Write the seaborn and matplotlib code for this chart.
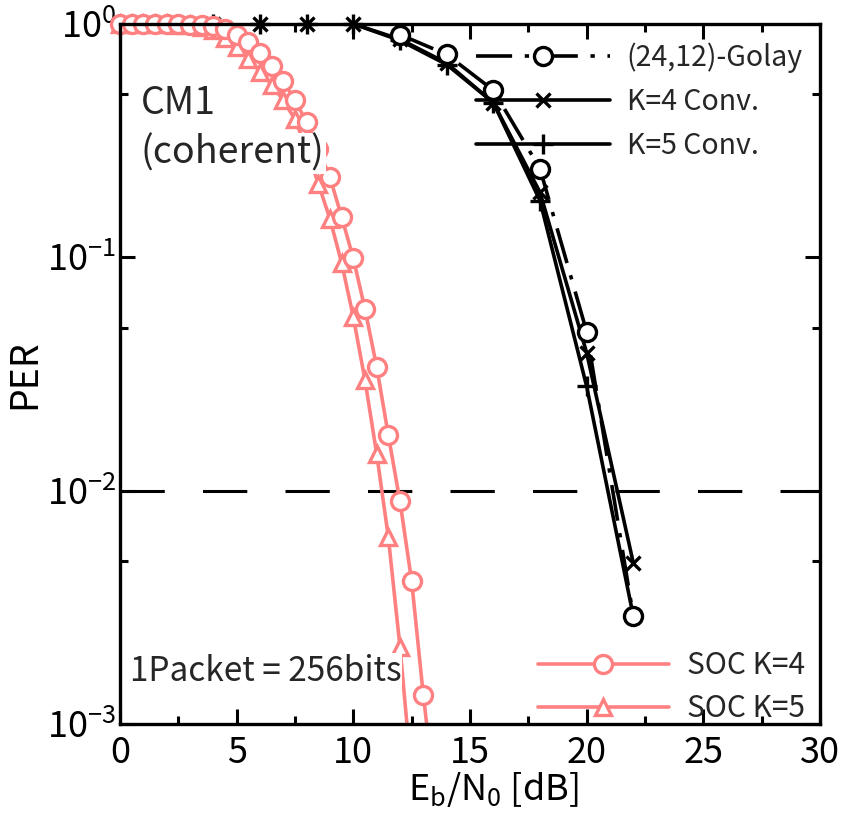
import numpy as np
import pandas as pd
import matplotlib
matplotlib.use("Agg")
import matplotlib.pyplot as plt
import seaborn as sns
from matplotlib.lines import Line2D
from matplotlib.ticker import MultipleLocator, LogLocator, FixedLocator

sns.set_theme(style="ticks")
plt.rcParams['font.family'] = ['Noto Sans CJK JP', 'DejaVu Sans']
plt.rcParams['mathtext.default'] = 'regular'

# datos
x_golay = [12, 14, 16, 18, 20, 22]
golay = [0.90, 0.74, 0.52, 0.24, 0.048, 0.0029]
x_conv = [0, 2, 4, 6, 8, 10, 12, 14, 16, 18, 20, 22]
k4_conv = [1, 1, 1, 1, 1, 1, 0.86, 0.68, 0.46, 0.19, 0.039, 0.0049]
k5_conv = [1, 1, 1, 1, 1, 1, 0.85, 0.67, 0.46, 0.175, 0.028, 0.0029]

x_soc4 = [0, 0.5, 1, 1.5, 2, 2.5, 3, 3.5, 4, 4.5, 5, 5.5, 6, 6.5, 7, 7.5, 8,
          8.5, 9, 9.5, 10, 10.5, 11, 11.5, 12, 12.5, 13, 13.5]
soc_k4 = [1, 1, 1, 1, 1, 1, 0.99, 0.99, 0.98, 0.95, 0.90, 0.84, 0.75, 0.66,
          0.57, 0.47, 0.38, 0.29, 0.22, 0.149, 0.099, 0.060, 0.034, 0.0173,
          0.0090, 0.0041, 0.00133, 0.0005]
x_soc5 = [0, 0.5, 1, 1.5, 2, 2.5, 3, 3.5, 4, 4.5, 5, 5.5, 6, 6.5, 7, 7.5, 8,
          8.5, 9, 9.5, 10, 10.5, 11, 11.5, 12, 12.5]
soc_k5 = [1, 1, 1, 1, 1, 0.99, 0.99, 0.97, 0.94, 0.87, 0.80, 0.71, 0.625,
          0.55, 0.47, 0.39, 0.29, 0.207, 0.146, 0.0946, 0.0555, 0.0298,
          0.0144, 0.00634, 0.00214, 0.0006]

target_per = 1e-2
pink = '#FF8080'
ymin = 1e-3

fig = plt.figure(figsize=(8.49, 8.14), dpi=100)
ax = fig.add_axes([0.1413, 0.1106, 0.8245, 0.86])
ax.set_yscale('log')

golay_ls = (0, (10, 3.5, 1.2, 3.5))
series = [
    # x, y, color, linestyle, marker, ms, mfc, zorder
    (x_conv, k4_conv, 'black', '-', 'x', 10, 'black', 3),
    (x_conv, k5_conv, 'black', '-', '+', 15, 'black', 3),
    (x_golay, golay, 'black', golay_ls, 'o', 13, 'white', 4),
    (x_soc5, soc_k5, pink, '-', '^', 11, 'white', 5),
    (x_soc4, soc_k4, pink, '-', 'o', 13, 'white', 5),
]

for xs, ys, col, ls, mk, ms, mfc, z in series:
    df = pd.DataFrame({'x': xs, 'y': ys})
    # linea recortada al eje
    sns.lineplot(data=df, x='x', y='y', ax=ax, color=col, linestyle=ls,
                 linewidth=2.6, estimator=None, sort=False, zorder=z)
    # marcadores sin recortar (solo los que caen dentro)
    d = df[df['y'] >= ymin]
    ax.plot(d['x'], d['y'], linestyle='none', marker=mk, markersize=ms,
            markerfacecolor=mfc, markeredgecolor=col, markeredgewidth=2.4,
            clip_on=False, zorder=z + 0.5)

ax.axhline(target_per, color='black', linewidth=2.2, dashes=(14.5, 12.5), zorder=2)

ax.set_xlim(0, 30)
ax.set_ylim(ymin, 1)
ax.xaxis.set_major_locator(MultipleLocator(5))
ax.xaxis.set_minor_locator(MultipleLocator(2.5))
ax.yaxis.set_major_locator(LogLocator(base=10, numticks=10))
ax.yaxis.set_minor_locator(FixedLocator([0.5, 0.05, 0.005]))
ax.tick_params(which='both', direction='in', top=True, right=True,
               width=2.2, color='black', labelsize=26, labelcolor='black')
ax.tick_params(which='major', length=11)
ax.tick_params(which='minor', length=6)
ax.tick_params(axis='x', which='major', pad=8)
ax.tick_params(axis='y', which='major', pad=3)
for s in ax.spines.values():
    s.set_linewidth(2.4)
    s.set_color('black')
    s.set_zorder(6)

ax.set_xlabel('E$_b$/N$_0$ [dB]', fontsize=26, color='black')
ax.xaxis.set_label_coords(0.534, -0.066)
ax.set_ylabel('PER', fontsize=27, color='black')
ax.yaxis.set_label_coords(-0.108, 0.5)

box = dict(facecolor='white', edgecolor='none', pad=0.5)
ax.text(0.03, 0.887, 'CM1', transform=ax.transAxes, fontsize=27,
        va='center', ha='left', bbox=box, zorder=7)
ax.text(0.03, 0.815, '(coherent)', transform=ax.transAxes, fontsize=27,
        va='center', ha='left', bbox=box, zorder=7)
ax.text(0.014, 0.075, '1Packet = 256bits', transform=ax.transAxes, fontsize=24,
        va='center', ha='left', bbox=box, zorder=7)

h_conv = [
    Line2D([], [], color='black', linestyle=golay_ls, linewidth=2.6, marker='o',
           markersize=13, markerfacecolor='white', markeredgewidth=2.4),
    Line2D([], [], color='black', linewidth=2.6, marker='x', markersize=10,
           markeredgewidth=2.4),
    Line2D([], [], color='black', linewidth=2.6, marker='+', markersize=15,
           markeredgewidth=2.4),
]
leg1 = ax.legend(h_conv, ['(24,12)-Golay', 'K=4 Conv.', 'K=5 Conv.'],
                 loc='upper right', bbox_to_anchor=(1.0, 0.998), frameon=False,
                 fontsize=20.5, handlelength=4.7, handletextpad=0.6,
                 labelspacing=0.5, borderaxespad=0.2)
ax.add_artist(leg1)

h_soc = [
    Line2D([], [], color=pink, linewidth=2.6, marker='o', markersize=13,
           markerfacecolor='white', markeredgewidth=2.4),
    Line2D([], [], color=pink, linewidth=2.6, marker='^', markersize=11,
           markerfacecolor='white', markeredgewidth=2.4),
]
ax.legend(h_soc, ['SOC K=4', 'SOC K=5'], loc='lower right',
          bbox_to_anchor=(1.0, -0.022), frameon=False, fontsize=21.5,
          handlelength=4.4, handletextpad=0.6, labelspacing=0.4,
          borderaxespad=0.1)

fig.savefig('out.png', dpi=100)
